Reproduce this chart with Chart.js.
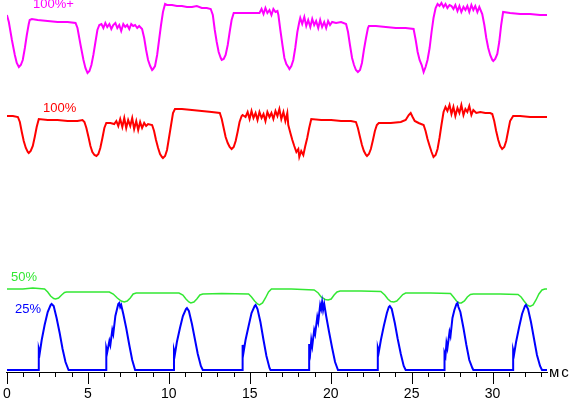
<!DOCTYPE html>
<html>
<head>
<meta charset="utf-8">
<script src="https://cdn.jsdelivr.net/npm/chart.js@4/dist/chart.umd.min.js"></script>
<style>
body{margin:0;background:#fff;}
#wrap{width:569px;height:398px;}
</style>
</head>
<body>
<div id="wrap"><canvas id="scope" width="569" height="398"></canvas></div>
<script>
/* DATA: time in ms, brightness in arbitrary units */
const xTicks=[0,5,10,15,20,25,30];
const xMax=33.36;

const lvl100plus=[[0,356],[0.12,349],[0.31,331],[0.49,316],[0.61,308],[0.74,304],[0.86,306],[0.98,311],[1.11,323],[1.23,336],[1.35,347],[1.41,351],[1.54,352],[1.90,351],[2.52,350],[3.13,349],[3.75,349],[4.24,348],
[4.36,343],[4.55,326],[4.73,311],[4.85,303],[4.98,298],[5.10,300],[5.22,306],[5.34,316],[5.47,329],[5.59,341],[5.71,346],
[5.84,347],[5.96,343],[6.08,348],[6.20,344],[6.33,347],[6.45,342],[6.57,346],[6.70,348],[6.82,343],[6.94,346],[7.06,340],[7.19,347],[7.31,344],[7.43,346],[7.56,342],[7.68,347],[7.80,345],[7.92,346],[8.05,343],[8.17,345],[8.35,342],
[8.48,333],[8.60,321],[8.72,311],[8.85,305],[8.97,301],[9.03,302],[9.15,305],[9.28,316],[9.40,331],[9.52,346],[9.64,359],[9.77,367],
[9.89,366],[10.20,366],[10.50,365],[10.81,365],[11.12,364],[11.43,364],[11.73,365],[12.04,363],[12.35,363],[12.59,362],
[12.72,356],[12.84,341],[12.96,329],[13.08,319],[13.21,313],[13.27,311],[13.39,312],[13.51,316],[13.64,326],[13.76,339],[13.88,351],[14.01,358],
[14.50,358],[15.11,358],[15.60,358],[15.73,362],[15.85,357],[15.97,363],[16.09,358],[16.22,361],[16.34,356],[16.46,362],[16.59,359],[16.71,360],[16.77,356],
[16.89,341],[17.02,326],[17.14,313],[17.26,307],[17.38,304],[17.45,302],[17.57,305],[17.69,311],[17.81,323],[17.94,339],[18.06,349],[18.12,353],
[18.24,347],[18.37,354],[18.49,345],[18.61,351],[18.74,344],[18.86,352],[18.98,346],[19.10,350],[19.23,343],[19.35,351],[19.47,344],[19.60,349],[19.72,343],[19.84,350],[19.96,346],[20.09,349],[20.33,348],[20.64,349],[20.95,347],
[21.07,339],[21.19,326],[21.32,313],[21.44,306],[21.56,301],[21.68,299],[21.81,301],[21.93,308],[22.05,321],[22.18,333],[22.30,343],[22.36,345],
[22.79,345],[23.40,344],[24.02,343],[24.63,343],[25.12,342],
[25.25,331],[25.37,319],[25.49,311],[25.62,306],[25.74,299],[25.86,304],[25.98,311],[26.11,323],[26.23,339],[26.35,353],[26.48,363],[26.60,367],
[26.72,365],[26.84,368],[26.97,364],[27.09,367],[27.21,363],[27.34,366],[27.46,365],[27.58,362],[27.70,366],[27.83,360],[27.95,365],[28.07,359],[28.20,364],[28.32,361],[28.44,365],[28.56,359],[28.69,366],[28.81,361],[28.93,365],[29.06,359],[29.18,364],[29.36,357],
[29.49,346],[29.61,333],[29.73,323],[29.85,316],[29.98,311],[30.04,310],[30.16,312],[30.29,317],[30.41,329],[30.53,346],[30.65,359],
[31.08,358],[31.70,357],[32.31,357],[32.93,356],[33.36,356]];

const lvl100=[[0,255],[0.37,255],[0.68,254],[0.80,249],[0.92,239],[1.04,230],[1.17,223],[1.29,219],[1.35,218],[1.47,220],[1.60,225],[1.72,234],[1.84,244],[1.97,252],
[2.52,251],[3.13,251],[3.75,250],[4.36,250],[4.67,251],[4.79,249],
[4.91,243],[5.04,234],[5.16,225],[5.28,219],[5.41,216],[5.53,215],[5.65,217],[5.77,223],[5.90,233],[6.02,243],[6.14,248],
[6.39,248],[6.63,247],[6.76,250],[6.88,245],[7.00,252],[7.13,244],[7.25,253],[7.37,243],[7.49,251],[7.62,245],[7.74,253],[7.86,242],[7.99,250],[8.11,241],[8.23,249],[8.35,243],[8.48,248],[8.60,245],[8.72,247],[8.97,246],
[9.09,240],[9.21,231],[9.34,223],[9.46,217],[9.58,214],[9.64,213],[9.77,215],[9.89,221],[10.01,233],[10.14,246],[10.26,258],[10.38,262],
[10.81,262],[11.43,261],[12.04,260],[12.65,259],[13.15,258],
[13.27,252],[13.39,243],[13.51,234],[13.64,228],[13.76,224],[13.88,222],[14.01,224],[14.13,230],[14.25,239],[14.37,249],[14.50,255],[14.56,256],
[14.74,254],[14.87,259],[14.99,252],[15.11,260],[15.23,253],[15.36,258],[15.48,251],[15.60,259],[15.73,253],[15.85,257],[15.97,250],[16.09,259],[16.22,254],[16.34,258],[16.46,252],[16.59,260],[16.71,255],[16.83,262],[16.95,252],[17.08,259],[17.20,250],[17.32,258],[17.38,246],
[17.51,238],[17.63,231],[17.75,225],[17.88,219],[18.00,222],[18.06,214],[18.18,220],[18.31,216],[18.43,225],[18.55,233],[18.67,243],[18.80,252],
[19.41,251],[20.03,251],[20.64,250],[21.25,250],[21.56,249],
[21.68,243],[21.81,234],[21.93,226],[22.05,220],[22.18,216],[22.24,215],[22.36,217],[22.48,222],[22.61,231],[22.73,240],[22.85,246],[22.97,248],
[23.71,248],[24.33,249],[24.63,251],[24.82,256],[24.94,258],[25.06,254],[25.19,250],[25.43,248],[25.74,246],
[25.86,240],[25.98,232],[26.11,225],[26.23,219],[26.35,214],[26.48,216],[26.60,222],[26.72,233],[26.84,246],[26.97,259],[27.09,264],
[27.21,260],[27.34,266],[27.46,257],[27.58,264],[27.70,255],[27.83,263],[27.95,258],[28.07,266],[28.20,256],[28.32,262],[28.44,259],[28.56,265],[28.69,256],[28.81,261],[28.99,258],[29.24,259],[29.55,258],[29.85,258],[29.98,257],
[30.10,250],[30.22,240],[30.35,231],[30.47,225],[30.59,222],[30.72,224],[30.84,230],[30.96,240],[31.08,250],[31.27,255],
[31.70,255],[32.31,254],[32.93,254],[33.36,254]];

const lvl50=[[0,82],[0.98,82],[1.60,83],[2.33,82],[2.52,79],[2.70,75],[2.89,72.5],[3.01,72],[3.19,73],[3.38,76],[3.56,78.5],[3.69,79],
[4.67,79],[5.90,79],[6.33,79],[6.57,77],[6.82,73],[7.06,70],[7.25,69],[7.43,70],[7.62,73],[7.80,77],[7.99,78],
[8.97,78],[10.63,78],[10.87,76],[11.06,72],[11.24,69],[11.36,68],[11.55,69],[11.73,72],[11.92,76],[12.10,77],
[13.27,77.5],[14.93,77],[15.11,74],[15.30,70],[15.48,67],[15.60,66],[15.79,68],[15.97,73],[16.16,79],[16.34,82],
[17.57,82],[18.98,81],[19.23,78],[19.41,74],[19.66,71.5],[19.84,71],[20.03,72],[20.21,76],[20.39,79],[20.58,80],
[21.87,80],[23.10,79.5],[23.34,76],[23.53,72],[23.71,69.5],[23.90,69],[24.08,70],[24.26,73],[24.45,76.5],[24.63,78],
[26.17,78],[27.40,77.5],[27.58,74],[27.77,70],[27.95,68],[28.07,68],[28.26,70],[28.44,74],[28.63,76.5],[28.81,77],
[30.47,77],[31.57,76.5],[31.76,74],[31.94,70],[32.13,66],[32.31,64.5],[32.50,66],[32.68,71],[32.86,77],[33.05,81],[33.23,82],[33.36,82]];

const lvl25=[[0,1],
[1.97,1],[1.97,22],[2.03,18],[2.15,31],[2.33,46],[2.52,59],[2.70,66],[2.76,67],[2.89,65],[3.07,53],[3.26,38],[3.44,22],[3.62,9],[3.81,1],
[6.14,1],[6.14,23],[6.20,19],[6.33,30],[6.39,26],[6.51,41],[6.57,37],[6.70,55],[6.82,63],[6.88,67],[6.94,68],[7.00,64],[7.06,66],[7.19,57],[7.37,43],[7.56,26],[7.74,11],[7.92,1],
[10.32,1],[10.32,21],[10.38,17],[10.50,29],[10.69,43],[10.87,55],[11.06,62],[11.12,63],[11.24,60],[11.43,47],[11.61,32],[11.79,17],[11.98,5],[12.10,1],
[14.56,1],[14.56,26],[14.62,19],[14.74,31],[14.93,45],[15.11,58],[15.30,65],[15.36,66],[15.48,62],[15.66,49],[15.85,31],[16.03,15],[16.22,3],[16.28,1],
[18.67,1],[18.67,27],[18.74,19],[18.80,31],[18.86,25],[18.98,41],[19.04,37],[19.17,54],[19.23,49],[19.35,66],[19.41,62],[19.47,69],[19.53,61],[19.60,67],[19.72,55],[19.90,39],[20.09,23],[20.27,9],[20.45,1],
[22.91,1],[22.91,23],[22.97,19],[23.10,31],[23.28,45],[23.47,58],[23.59,64],[23.65,65],[23.77,62],[23.96,48],[24.14,32],[24.33,17],[24.51,5],[24.63,1],
[27.03,1],[27.03,18],[27.09,15],[27.15,28],[27.21,23],[27.34,39],[27.40,35],[27.52,53],[27.64,61],[27.77,67],[27.83,68],[27.89,64],[28.01,59],[28.20,43],[28.38,26],[28.56,11],[28.75,3],[28.81,1],
[31.27,1],[31.27,21],[31.33,17],[31.45,29],[31.64,44],[31.82,57],[32.00,65],[32.06,66],[32.19,62],[32.37,49],[32.56,32],[32.74,16],[32.93,5],[33.05,1],
[33.36,1]];

const seriesNames=["25%","50%","100%","100%+"];
const seriesColors=["#0000ff","#33e833","#ff0000","#ff00ff"];

function pts(a){return a.map(p=>({x:p[0],y:p[1]}));}

/* LABELS + TICKS */
const scopeDecor={
id:"scopeDecor",
afterDraw(chart){
const ctx=chart.ctx;
const xs=chart.scales.x;
const bottom=chart.chartArea.bottom;
ctx.save();
ctx.strokeStyle="#000";
ctx.lineWidth=1;
ctx.beginPath();
for(let v=0;v<=Math.floor(xMax);v++){
let px=Math.round(xs.getPixelForValue(v))+0.5;
let len=(v%5===0)?12:5;
ctx.moveTo(px,bottom);
ctx.lineTo(px,bottom+len);
}
ctx.stroke();

ctx.font="13px 'Liberation Sans', Arial, sans-serif";
ctx.textBaseline="middle";
ctx.textAlign="left";
const labelPos=[[15,309],[11,277],[43,108],[33,4]];
for(let i=0;i<4;i++){
ctx.fillStyle=seriesColors[i];
ctx.fillText(seriesNames[i],labelPos[i][0],labelPos[i][1]);
}
ctx.fillStyle="#000";
ctx.font="15px 'Liberation Sans', Arial, sans-serif";
ctx.letterSpacing="2px";
ctx.fillText("мс",549,373);
ctx.restore();
}
};

/* CHART */
new Chart(document.getElementById("scope"),{
type:"line",
data:{
datasets:[
{label:seriesNames[0],data:pts(lvl25),borderColor:seriesColors[0],borderWidth:2},
{label:seriesNames[1],data:pts(lvl50),borderColor:seriesColors[1],borderWidth:1.5},
{label:seriesNames[2],data:pts(lvl100),borderColor:seriesColors[2],borderWidth:2},
{label:seriesNames[3],data:pts(lvl100plus),borderColor:seriesColors[3],borderWidth:2}
]
},
options:{
responsive:false,
animation:false,
events:[],
elements:{point:{radius:0},line:{tension:0}},
layout:{padding:{left:4,right:22,top:0,bottom:0}},
plugins:{legend:{display:false},tooltip:{enabled:false}},
scales:{
x:{
type:"linear",
min:0,
max:xMax,
afterFit(s){s.height=26;},
afterBuildTicks(s){s.ticks=xTicks.map(v=>({value:v}));},
grid:{display:false,drawTicks:true,tickLength:12},
border:{display:true,color:"#000",width:1},
ticks:{color:"#000",padding:3,maxRotation:0,autoSkip:false,font:{family:"'Liberation Sans Narrow', 'Liberation Sans', Arial, sans-serif",size:14,lineHeight:1}}
},
y:{display:false,min:-1,max:371}
}
},
plugins:[scopeDecor]
});
</script>
</body>
</html>
